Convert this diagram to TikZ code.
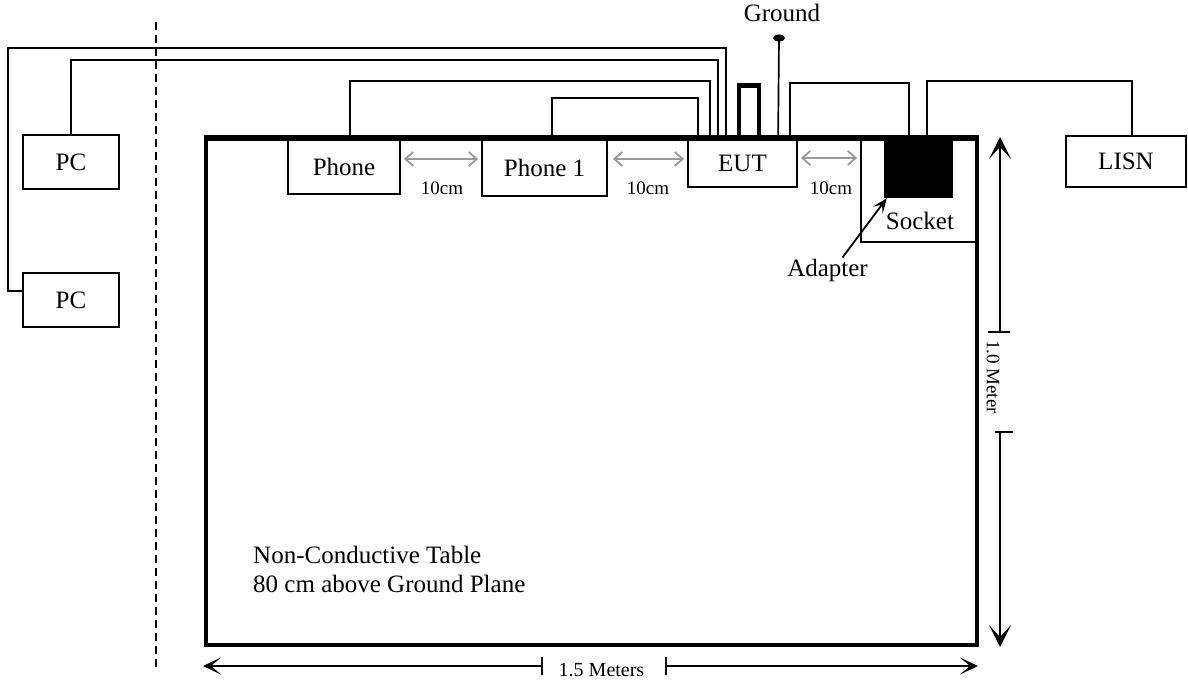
\documentclass[tikz,border=0pt]{standalone}
\usepackage{fontspec}
\setmainfont{Liberation Serif}
\usetikzlibrary{arrows.meta,shapes.geometric,calc}
\begin{document}
\begin{tikzpicture}[x=1pt,y=-1pt,
  box/.style={draw, line width=1.8pt, inner sep=0pt, font=\fontsize{25}{29}\selectfont},
  cable/.style={line width=1.7pt},
  gaparrow/.style={draw=black!40, line width=1.8pt, {Straight Barb[length=8pt,width=14pt]}-{Straight Barb[length=8pt,width=14pt]}},
  dimline/.style={line width=1.8pt},
  bigtip/.style={-{Stealth[length=22pt,width=22pt,inset=12pt]}},
  medtip/.style={-{Stealth[length=18pt,width=17pt,inset=10pt]}},
  lab/.style={font=\fontsize{25}{29}\selectfont, inner sep=0pt},
  small/.style={font=\fontsize{19}{22}\selectfont, inner sep=0pt}]
\useasboundingbox (0,0) rectangle (1188,684);

% boxes
\node[box, minimum width=96, minimum height=54] (pc1) at (71,162) {PC};
\node[box, minimum width=96, minimum height=54] (pc2) at (71,300) {PC};
\node[box, minimum width=112, minimum height=54] (phone) at (344,167) {Phone};
\node[box, minimum width=125, minimum height=57] (phone1) at (544.5,167.5) {Phone 1};
\node[box, minimum width=109, minimum height=48] (eut) at (742.5,163) {EUT};
\node[box, minimum width=115, minimum height=103] (socket) at (918.5,190.5) {};
\node[draw, fill=black, inner sep=0pt, minimum width=68, minimum height=58] (adapter) at (918,168) {};
\node[lab, anchor=base] (socketlab) at (920,230) {Socket};
\node[box, minimum width=120, minimum height=51] (lisn) at (1126,161.5) {LISN};

% table
\node[draw, line width=3.5pt, inner sep=0pt, minimum width=771, minimum height=506] (table) at (591.5,392) {};
\node[lab, anchor=base west] (tlab1) at (253,563) {Non-Conductive Table};
\node[lab, anchor=base west] (tlab2) at (253,592) {80 cm above Ground Plane};

% dashed boundary
\coordinate (dtop) at (156,22);
\coordinate (dbot) at (156,668);
\draw[line width=1.8pt, dash pattern=on 8pt off 5pt] (dtop) -- (dbot);

% cables
\draw[cable] ([yshift=9pt]pc2.west) -| (8,48) -| ($(eut.north west)+(39,0)$);
\draw[cable] (pc1.north) |- (300,60) -| ($(eut.north west)+(31,0)$);
\draw[cable] ($(phone.north west)+(63,0)$) |- (500,81) -| ($(eut.north west)+(23,0)$);
\draw[cable] ($(phone1.north west)+(71,0)$) |- (600,98) -| ($(eut.north west)+(11,0)$);
\draw[line width=4.5pt] ($(eut.north west)+(52,0)$) |- (750,85.5) -| ($(eut.north west)+(72,0)$);
\node[ellipse, fill=black, inner sep=0pt, minimum width=12, minimum height=7] (gdot) at (779,38) {};
\node[lab, anchor=base] (gndlab) at (782,22) {Ground};
\draw[cable] (gdot.center) -- ($(eut.north west)+(91,0)$);
\draw[cable] ($(eut.north west)+(103,0)$) |- (850,83) -| ($(adapter.north west)+(25,0)$);
\draw[cable] ($(adapter.north west)+(43,0)$) |- (1000,81) -| ($(lisn.north west)+(67,0)$);

% redraw table top over box edges
\draw[line width=3.5pt] (table.north west) -- (table.north east);

% 10cm gaps
\coordinate (ay) at (0,159);
\coordinate (ay2) at (0,158);
\draw[gaparrow] ($(phone.east |- ay)+(3,0)$) -- ($(phone1.west |- ay)+(-3,0)$);
\draw[gaparrow] ($(phone1.east |- ay)+(5,0)$) -- ($(eut.west |- ay)+(-3,0)$);
\draw[gaparrow] ($(eut.east |- ay2)+(3,0)$) -- ($(socket.west |- ay2)+(-3,0)$);
\node[small, anchor=base] (g1) at (442,195) {10cm};
\node[small, anchor=base] (g2) at (648,195) {10cm};
\node[small, anchor=base] (g3) at (831,195) {10cm};

% adapter pointer
\node[lab, anchor=base] (adlab) at (827.5,277) {Adapter};
\draw[line width=1.8pt, -{Stealth[length=15pt,width=12pt,inset=7pt]}] ($(adlab.north)+(15,-2)$) -- ($(adapter.south west)+(3,1)$);

% 1.0 meter dimension
\coordinate (vtop) at (1000,137);
\coordinate (vbot) at (1000,647);
\coordinate (vt1) at (1000,332);
\coordinate (vt2) at (1000,432);
\draw[dimline, bigtip] (vt1) -- (vtop);
\draw[dimline, bigtip] (vt2) -- (vbot);
\draw[dimline] (988,332) -- (1010,332);
\draw[dimline] (995,432) -- (1013,432);
\node[small, rotate=-90] (mlab) at (993,377) {1.0 Meter};

% 1.5 meters dimension
\coordinate (hleft) at (203,666);
\coordinate (hright) at (978,666);
\coordinate (ht1) at (542,666);
\coordinate (ht2) at (666,666);
\draw[dimline, medtip] (ht1) -- (hleft);
\draw[dimline, medtip] (ht2) -- (hright);
\draw[dimline] (542,657) -- (542,675);
\draw[dimline] (666,657) -- (666,675);
\node[font=\fontsize{20}{24}\selectfont, inner sep=0pt, anchor=base] (hlab) at (601.5,676) {1.5 Meters};
\end{tikzpicture}
\end{document}
